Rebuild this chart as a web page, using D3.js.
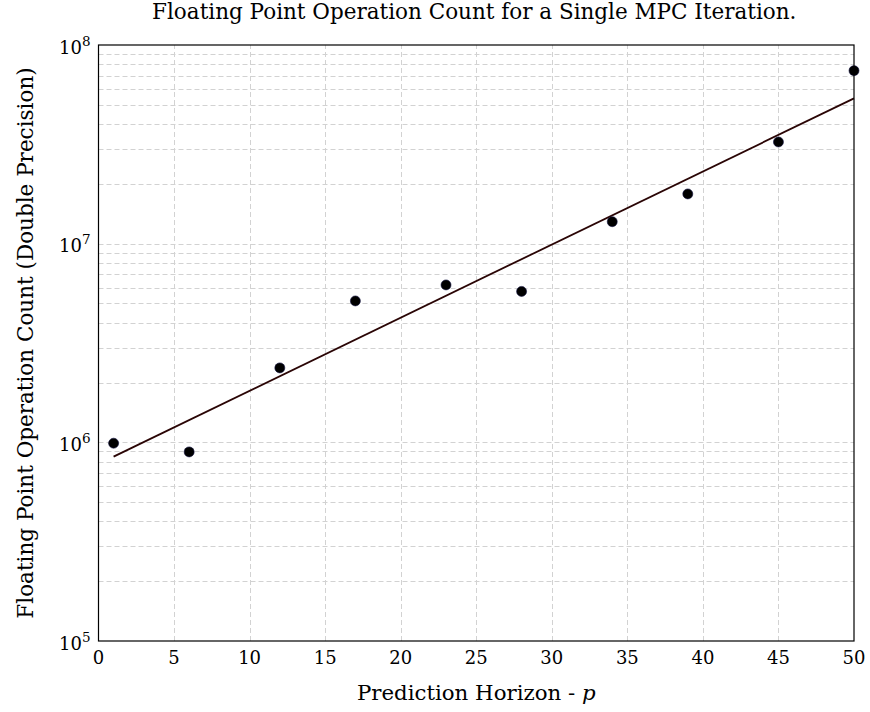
<!DOCTYPE html>
<html>
<head>
<meta charset="utf-8">
<script src="https://cdn.jsdelivr.net/npm/d3@7"></script>
<style>
  body { margin: 0; background: #fff; }
  svg { display: block; font-family: "DejaVu Serif", "Liberation Serif", serif; }
</style>
</head>
<body>
<svg id="chart" width="870" height="712"></svg>
<script>
// Prediction horizon samples and measured flop counts
const horizon = [1, 6, 12, 17, 23, 28, 34, 39, 45, 50];
const flops = [9.9e5, 8.95e5, 2.37e6, 5.15e6, 6.2e6, 5.75e6, 1.29e7, 1.78e7, 3.25e7, 7.43e7];

// Exponential trend line endpoints
const fitX = [1, 50];
const fitY = [8.47e5, 5.39e7];

const xTicks = [0, 5, 10, 15, 20, 25, 30, 35, 40, 45, 50];
const yMajor = [1e5, 1e6, 1e7, 1e8];
const yExp = [5, 6, 7, 8];

const margin = { left: 98.5, right: 16, top: 45, bottom: 71 };
const W = 870, H = 712;
const svg = d3.select("#chart");

const x = d3.scaleLinear().domain([0, 50]).range([margin.left, W - margin.right]);
const y = d3.scaleLog().domain([1e5, 1e8]).range([H - margin.bottom, margin.top]);

const grid = svg.append("g").attr("stroke", "#d2d2d2").attr("stroke-width", 1)
  .attr("stroke-dasharray", "5,3").attr("fill", "none");

// minor log grid
const minor = [];
for (let e = 5; e < 8; e++) for (let m = 2; m <= 9; m++) minor.push(m * Math.pow(10, e));
grid.selectAll("line.ymin").data(minor).join("line")
  .attr("x1", x(0)).attr("x2", x(50))
  .attr("y1", d => Math.round(y(d)) + 0.5).attr("y2", d => Math.round(y(d)) + 0.5);
grid.selectAll("line.ymaj").data(yMajor.slice(1, 3)).join("line")
  .attr("class", "ymaj")
  .attr("x1", x(0)).attr("x2", x(50))
  .attr("y1", d => Math.round(y(d)) + 0.5).attr("y2", d => Math.round(y(d)) + 0.5);
grid.selectAll("line.xg").data(xTicks.slice(1, -1)).join("line")
  .attr("class", "xg")
  .attr("y1", y(1e5)).attr("y2", y(1e8))
  .attr("x1", d => Math.round(x(d)) + 0.5).attr("x2", d => Math.round(x(d)) + 0.5);

// trend line
svg.append("path")
  .datum(fitX.map((v, i) => [v, fitY[i]]))
  .attr("fill", "none").attr("stroke", "#2a0505").attr("stroke-width", 1.8)
  .attr("d", d3.line().x(d => x(d[0])).y(d => y(d[1])));

// data points
svg.append("g").selectAll("circle").data(horizon).join("circle")
  .attr("cx", d => x(d)).attr("cy", (d, i) => y(flops[i]))
  .attr("r", 5).attr("fill", "#000").attr("stroke", "#101040").attr("stroke-width", 0.6);

// frame
svg.append("rect")
  .attr("x", x(0)).attr("y", y(1e8))
  .attr("width", x(50) - x(0)).attr("height", y(1e5) - y(1e8))
  .attr("fill", "none").attr("stroke", "#000").attr("stroke-width", 1.2);

// x tick labels
svg.append("g").selectAll("text").data(xTicks).join("text")
  .attr("x", d => x(d)).attr("y", y(1e5) + 23)
  .attr("text-anchor", "middle").attr("font-size", 18).attr("fill", "#000")
  .text(d => d);

// y tick labels
const yl = svg.append("g").selectAll("text").data(yExp).join("text")
  .attr("x", x(0) - 8).attr("y", d => y(Math.pow(10, d)) + 8.6)
  .attr("text-anchor", "end").attr("font-size", 18).attr("fill", "#000");
yl.append("tspan").text("10");
yl.append("tspan").attr("dy", -8).attr("font-size", 13.5).text(d => d);

// title
svg.append("text").attr("x", (x(0) + x(50)) / 2 - 2).attr("y", 19)
  .attr("text-anchor", "middle").attr("font-size", 21.5).attr("fill", "#000")
  .text("Floating Point Operation Count for a Single MPC Iteration.");

// x label
const xl = svg.append("text").attr("x", (x(0) + x(50)) / 2).attr("y", 700)
  .attr("text-anchor", "middle").attr("font-size", 21.3).attr("fill", "#000");
xl.append("tspan").text("Prediction Horizon - ");
xl.append("tspan").attr("font-style", "italic").text("p");

// y label
svg.append("text")
  .attr("transform", `translate(33,${(y(1e5) + y(1e8)) / 2}) rotate(-90)`)
  .attr("text-anchor", "middle").attr("font-size", 21.5).attr("fill", "#000")
  .text("Floating Point Operation Count (Double Precision)");
</script>
</body>
</html>
